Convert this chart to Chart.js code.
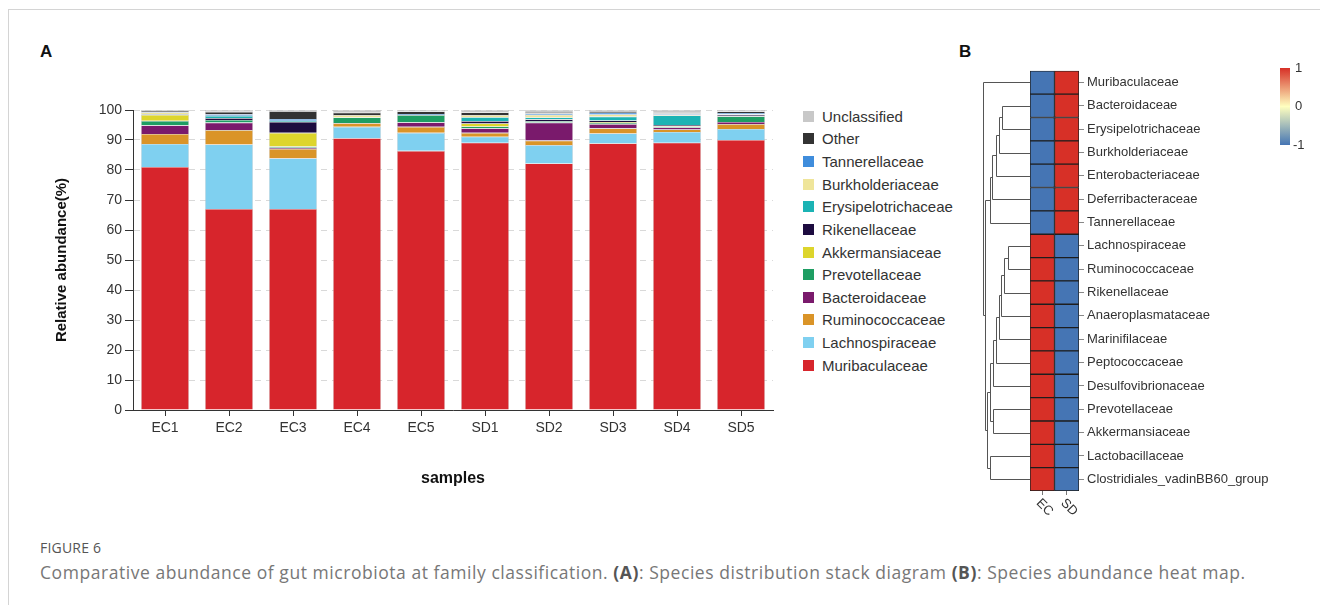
<!DOCTYPE html>
<html>
<head>
<meta charset="utf-8">
<title>Figure 6</title>
<script src="https://cdn.jsdelivr.net/npm/chart.js@4.4.0/dist/chart.umd.min.js"></script>
<style>
  body { margin: 0; background: #fff; width: 1322px; height: 605px; overflow: hidden; position: relative; font-family: "Liberation Sans", Arial, sans-serif; }
  #frame { position: absolute; left: 8px; top: 9px; right: 2px; bottom: -2px; border-left: 1px solid #d4d4d4; border-top: 1px solid #d4d4d4; }
  .panel-label { position: absolute; font-weight: bold; font-size: 17px; color: #111; line-height: 20px; }
  #boxA { position: absolute; left: 49px; top: 95px; width: 741px; height: 400px; }
  #boxB { position: absolute; left: 940px; top: 60px; width: 382px; height: 470px; }
  #legendA { position: absolute; left: 803px; top: 105px; }
  .leg-item { height: 22.64px; display: flex; align-items: center; font-size: 15px; color: #333; white-space: nowrap; }
  .leg-box { width: 11px; height: 11px; margin-right: 8px; }
  #figno { position: absolute; left: 40px; top: 538px; font-family: "Open Sans", sans-serif; font-size: 14px; color: #555; letter-spacing: 0.2px; }
  #caption { position: absolute; left: 40px; top: 560px; font-family: "Open Sans", sans-serif; font-size: 17.5px; letter-spacing: 0.55px; color: #777; white-space: nowrap; }
  #caption b { color: #555; }
</style>
</head>
<body>
<div id="frame"></div>
<div class="panel-label" style="left:40px; top:42px;">A</div>
<div class="panel-label" style="left:959px; top:42px;">B</div>

<div id="boxA"><canvas id="stackChart"></canvas></div>
<div id="legendA"></div>
<div id="boxB"><canvas id="heatChart"></canvas></div>

<div id="figno">FIGURE 6</div>
<div id="caption">Comparative abundance of gut microbiota at family classification. <b>(A)</b>: Species distribution stack diagram <b>(B)</b>: Species abundance heat map.</div>

<script>
// ---- panel A data (relative abundance, %) ----
var samples = ['EC1', 'EC2', 'EC3', 'EC4', 'EC5', 'SD1', 'SD2', 'SD3', 'SD4', 'SD5'];
var yTicks = [0, 10, 20, 30, 40, 50, 60, 70, 80, 90, 100];

var muribaculaceae      = [81.0, 67.0, 67.0, 90.6, 86.4, 89.1, 82.2, 88.9, 89.1, 90.0];
var lachnospiraceae     = [7.7, 21.5, 16.9, 3.8, 6.0, 2.0, 6.1, 3.3, 3.6, 3.7];
var ruminococcaceae     = [3.3, 4.8, 3.1, 1.2, 2.0, 1.3, 1.5, 1.7, 0.8, 1.6];
var bacteroidaceae      = [2.9, 2.5, 0.4, 0.1, 1.5, 1.5, 6.0, 1.4, 0.7, 0.7];
var prevotellaceae      = [1.5, 0.9, 0.4, 1.8, 2.4, 0.6, 0.5, 0.4, 0.3, 1.9];
var akkermansiaceae     = [2.0, 0.0, 4.6, 0.1, 0.0, 1.0, 0.0, 0.2, 0.2, 0.1];
var rikenellaceae       = [0.2, 0.6, 3.6, 0.0, 0.0, 0.8, 0.6, 0.6, 0.3, 0.4];
var erysipelotrichaceae = [0.1, 0.7, 0.3, 0.0, 0.0, 1.3, 0.6, 1.3, 3.2, 0.1];
var burkholderiaceae    = [0.5, 0.1, 0.1, 0.7, 0.0, 0.7, 0.9, 0.7, 0.3, 0.1];
var tannerellaceae      = [0.1, 0.5, 0.6, 0.0, 0.4, 0.0, 0.5, 0.6, 0.4, 0.4];
var other               = [0.4, 0.8, 2.6, 0.8, 0.8, 0.9, 0.4, 0.5, 0.3, 0.5];
var unclassified        = [0.3, 0.6, 0.4, 0.9, 0.5, 0.8, 0.7, 0.4, 0.8, 0.5];

// bottom of the stack first
var familyNames = ['Muribaculaceae', 'Lachnospiraceae', 'Ruminococcaceae', 'Bacteroidaceae', 'Prevotellaceae',
  'Akkermansiaceae', 'Rikenellaceae', 'Erysipelotrichaceae', 'Burkholderiaceae', 'Tannerellaceae', 'Other', 'Unclassified'];
var familyValues = [muribaculaceae, lachnospiraceae, ruminococcaceae, bacteroidaceae, prevotellaceae,
  akkermansiaceae, rikenellaceae, erysipelotrichaceae, burkholderiaceae, tannerellaceae, other, unclassified];
var familyColors = ['#d7252c', '#7fd0f0', '#da9428', '#7a1a6c', '#1e9e63',
  '#ddd52c', '#1d0c40', '#1bb3b4', '#efe59a', '#3f8ddc', '#333333', '#c8c8c8'];

// ---- panel B data (scaled abundance) ----
var heatRows = ['Muribaculaceae', 'Bacteroidaceae', 'Erysipelotrichaceae', 'Burkholderiaceae', 'Enterobacteriaceae',
  'Deferribacteraceae', 'Tannerellaceae', 'Lachnospiraceae', 'Ruminococcaceae', 'Rikenellaceae', 'Anaeroplasmataceae',
  'Marinifilaceae', 'Peptococcaceae', 'Desulfovibrionaceae', 'Prevotellaceae', 'Akkermansiaceae', 'Lactobacillaceae',
  'Clostridiales_vadinBB60_group'];
var heatGroups = ['EC', 'SD'];
var heatEC = [-1, -1, -1, -1, -1, -1, -1, 1, 1, 1, 1, 1, 1, 1, 1, 1, 1, 1];
var heatSD = [1, 1, 1, 1, 1, 1, 1, -1, -1, -1, -1, -1, -1, -1, -1, -1, -1, -1];
var colorbarTicks = [1, 0, -1];

// row dendrogram: [node a, node b, height (root = 1)], leaves are row indices, new nodes numbered from 18
var treeMerges = [
  [1, 2, 0.60], [18, 3, 0.66], [19, 4, 0.72], [20, 5, 0.81], [21, 6, 0.85],
  [7, 8, 0.47], [23, 9, 0.55], [24, 10, 0.62], [25, 11, 0.66], [26, 12, 0.72], [27, 13, 0.79],
  [14, 15, 0.79], [28, 29, 0.85], [16, 17, 0.85], [30, 31, 0.91],
  [22, 32, 0.96], [0, 33, 1.0]
];

// legend (top item = top of stack)
var legendEl = document.getElementById('legendA');
for (var i = familyNames.length - 1; i >= 0; i--) {
  legendEl.innerHTML += '<div class="leg-item"><span class="leg-box" style="background:' + familyColors[i] + '"></span>' + familyNames[i] + '</div>';
}

var axisFont = { family: '"Liberation Sans", Arial, sans-serif', size: 14 };

new Chart(document.getElementById('stackChart'), {
  type: 'bar',
  data: {
    labels: samples,
    datasets: familyNames.map(function (name, k) {
      return {
        label: name,
        data: familyValues[k],
        backgroundColor: familyColors[k],
        borderColor: 'rgba(190,190,190,0.7)',
        borderWidth: 0.6,
        barPercentage: 0.75,
        categoryPercentage: 1.0
      };
    })
  },
  options: {
    responsive: true,
    maintainAspectRatio: false,
    animation: false,
    layout: { padding: { top: 15, right: 17, left: 0, bottom: 0 } },
    plugins: { legend: { display: false }, tooltip: { enabled: false } },
    scales: {
      x: {
        stacked: true,
        grid: { drawOnChartArea: false, offset: false, tickLength: 6, tickColor: '#333' },
        border: { color: '#333', width: 1 },
        ticks: { color: '#333', font: axisFont, padding: 4 },
        title: { display: true, text: 'samples', color: '#111', font: { family: axisFont.family, size: 16, weight: 'bold' }, padding: { top: 4, bottom: 7 } },
        afterFit: function (s) { s.height = 85; }
      },
      y: {
        stacked: true,
        min: 0,
        max: 100,
        afterBuildTicks: function (s) { s.ticks = yTicks.map(function (v) { return { value: v }; }); },
        grid: { color: '#d9d9d9', tickLength: 8, tickColor: '#333', tickBorderDash: [] },
        border: { color: '#333', width: 1, dash: [6, 5] },
        ticks: { color: '#333', font: axisFont, padding: 3 },
        title: { display: true, text: 'Relative abundance(%)', color: '#111', font: { family: axisFont.family, size: 15, weight: 'bold' }, padding: { top: 4, bottom: 4 } },
        afterFit: function (s) { s.width = 84; }
      }
    }
  }
});

// diverging blue - yellow - red scale
function heatColor(v) {
  var lo = [69, 117, 180], mid = [255, 255, 191], hi = [215, 48, 39];
  var a = v < 0 ? lo : mid, b = v < 0 ? mid : hi, t = v < 0 ? v + 1 : v;
  var c = a.map(function (x, j) { return Math.round(x + (b[j] - x) * t); });
  return 'rgb(' + c.join(',') + ')';
}

var dendroWidth = 47;
var heatExtras = {
  id: 'heatExtras',
  afterDraw: function (chart) {
    var ctx = chart.ctx, area = chart.chartArea;
    var ys = chart.scales.y, xs = chart.scales.x;
    ctx.save();

    // dendrogram
    var nodes = heatRows.map(function (r, i) { return { x: area.left, y: ys.getPixelForValue(i) }; });
    ctx.strokeStyle = '#555';
    ctx.lineWidth = 1;
    treeMerges.forEach(function (m) {
      var a = nodes[m[0]], b = nodes[m[1]];
      var nx = Math.round(area.left - m[2] * dendroWidth) + 0.5;
      var ay = Math.round(a.y) + 0.5, by = Math.round(b.y) + 0.5;
      ctx.beginPath();
      ctx.moveTo(a.x, ay); ctx.lineTo(nx, ay); ctx.lineTo(nx, by); ctx.lineTo(b.x, by);
      ctx.stroke();
      nodes.push({ x: nx, y: (a.y + b.y) / 2 });
    });

    // rotated group labels
    ctx.fillStyle = '#333';
    ctx.font = '13px "Liberation Sans", Arial, sans-serif';
    ctx.textAlign = 'left';
    ctx.textBaseline = 'middle';
    heatGroups.forEach(function (g, i) {
      var px = xs.getPixelForValue(i + 0.5);
      ctx.save();
      ctx.translate(px - 4, area.bottom + 10);
      ctx.rotate(Math.PI / 4);
      ctx.fillText(g, 0, 0);
      ctx.restore();
    });

    // colour bar
    var cbX = area.right + 201, cbTop = 8, cbH = 77, cbW = 10;
    var grad = ctx.createLinearGradient(0, cbTop, 0, cbTop + cbH);
    for (var s = 0; s <= 20; s++) {
      grad.addColorStop(s / 20, heatColor(1 - s / 10));
    }
    ctx.fillStyle = grad;
    ctx.fillRect(cbX, cbTop, cbW, cbH);
    ctx.fillStyle = '#333';
    ctx.font = '13px "Liberation Sans", Arial, sans-serif';
    colorbarTicks.forEach(function (v) {
      var ty = cbTop + (1 - v) / 2 * cbH;
      ctx.fillText(String(v), cbX + (v < 0 ? 13 : 15), ty);
    });
    ctx.restore();
  }
};

new Chart(document.getElementById('heatChart'), {
  type: 'bar',
  data: {
    labels: heatRows,
    datasets: [heatEC, heatSD].map(function (vals, g) {
      return {
        label: heatGroups[g],
        data: vals.map(function () { return [g, g + 1]; }),
        backgroundColor: vals.map(heatColor),
        borderColor: '#1e1e1e',
        borderWidth: 1,
        borderSkipped: false,
        barPercentage: 1,
        categoryPercentage: 1,
        grouped: false
      };
    })
  },
  options: {
    indexAxis: 'y',
    responsive: true,
    maintainAspectRatio: false,
    animation: false,
    layout: { padding: { top: 9, right: 43, left: 90, bottom: 0 } },
    plugins: { legend: { display: false }, tooltip: { enabled: false } },
    scales: {
      x: {
        type: 'linear',
        min: 0,
        max: heatGroups.length,
        afterBuildTicks: function (s) { s.ticks = heatGroups.map(function (g, i) { return { value: i + 0.5 }; }); },
        grid: { drawOnChartArea: false, tickLength: 4, tickColor: '#777' },
        border: { display: false },
        ticks: { display: false },
        afterFit: function (s) { s.height = 39; }
      },
      y: {
        position: 'right',
        grid: { drawOnChartArea: false, offset: false, tickLength: 5, tickColor: '#888' },
        border: { display: false },
        ticks: { color: '#333', font: { family: '"Liberation Sans", Arial, sans-serif', size: 13 }, padding: 3 },
        afterFit: function (s) { s.width = 200; }
      }
    }
  },
  plugins: [heatExtras]
});
</script>
</body>
</html>
